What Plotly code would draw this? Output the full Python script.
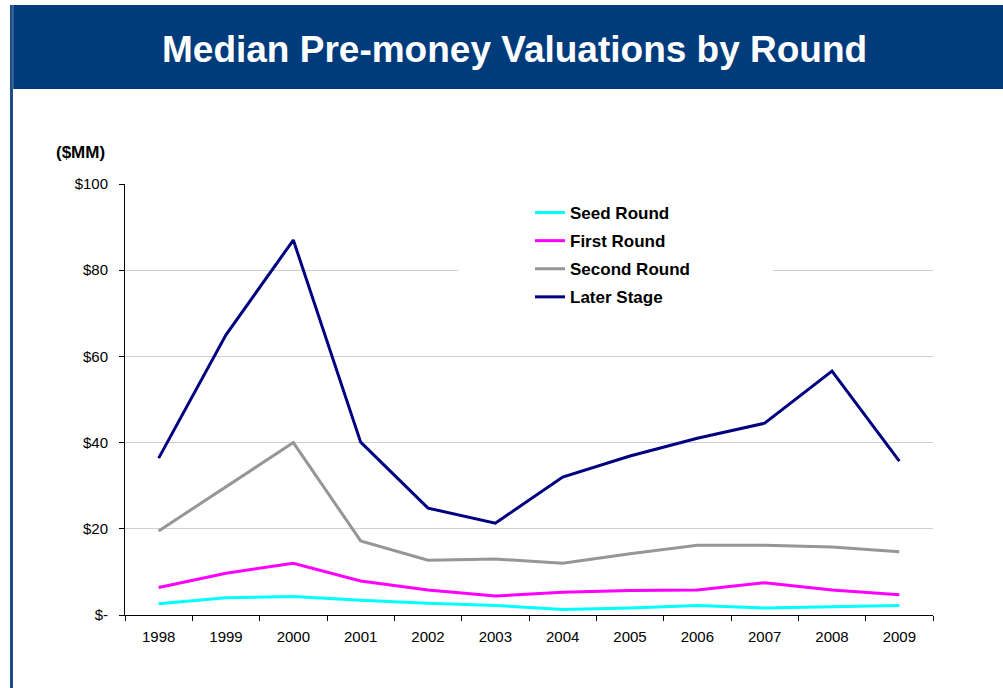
import plotly.graph_objects as go

years = ["1998", "1999", "2000", "2001", "2002", "2003",
         "2004", "2005", "2006", "2007", "2008", "2009"]

seed_round = [2.6, 4.0, 4.3, 3.4, 2.7, 2.2, 1.3, 1.6, 2.2, 1.6, 1.9, 2.2]
first_round = [6.4, 9.7, 12.0, 7.9, 5.8, 4.4, 5.3, 5.7, 5.8, 7.5, 5.8, 4.7]
second_round = [19.5, 29.8, 40.0, 17.2, 12.7, 13.0, 12.0, 14.2, 16.2, 16.2, 15.8, 14.7]
later_stage = [36.4, 65.0, 87.0, 40.1, 24.8, 21.3, 32.0, 36.9, 41.0, 44.5, 56.6, 35.7]

y_ticks = [0, 20, 40, 60, 80, 100]
y_labels = ["$-", "$20", "$40", "$60", "$80", "$100"]

W, H = 1003, 688
L, R, T, B = 125, 70, 184, 73
PW, PH = W - L - R, H - T - B


# helpers: page pixels -> paper coords
def px(x):
    return (x - L) / PW


def py(y):
    return (H - B - y) / PH


font = "Arial, Liberation Sans, sans-serif"

fig = go.Figure()
series = [
    ("Seed Round", seed_round, "#00FFFF"),
    ("First Round", first_round, "#FF00FF"),
    ("Second Round", second_round, "#969696"),
    ("Later Stage", later_stage, "#000080"),
]
for name, vals, col in series:
    fig.add_trace(go.Scatter(x=years, y=vals, mode="lines", name=name,
                             legendgroup=name,
                             line=dict(color=col, width=3)))

fig.update_layout(
    width=W, height=H,
    margin=dict(l=L, r=R, t=T, b=B),
    paper_bgcolor="white",
    plot_bgcolor="white",
    font=dict(family=font, size=15, color="black"),
    showlegend=True,
    legend=dict(x=px(530), y=py(195), xanchor="left", yanchor="top",
                bgcolor="rgba(0,0,0,0)", borderwidth=0,
                font=dict(family=font, size=17, color="black", weight="bold"),
                traceorder="grouped", tracegroupgap=3),
    xaxis=dict(type="category", range=[-0.5, 11.5],
               showline=True, linecolor="black", linewidth=1,
               ticks="outside", tickson="boundaries", ticklen=5, tickcolor="black",
               ticklabelstandoff=8,
               showgrid=False, tickfont=dict(size=15)),
    yaxis=dict(range=[0, 100], tickvals=y_ticks, ticktext=y_labels,
               showline=True, linecolor="black", linewidth=1,
               ticks="outside", ticklen=5, tickcolor="black",
               ticklabelstandoff=8,
               showgrid=True, gridcolor="#CFCFCF", gridwidth=1,
               zeroline=False, tickfont=dict(size=15)),
)

# title bar, left border line, white box behind the legend
fig.add_shape(type="rect", xref="paper", yref="paper",
              x0=px(10), x1=px(1003), y0=py(89), y1=py(5),
              fillcolor="#003C7C", line_width=0, layer="above")
fig.add_shape(type="line", xref="paper", yref="paper",
              x0=px(11.5), x1=px(11.5), y0=py(688), y1=py(5),
              line=dict(color="#1F4E85", width=3), layer="above")
fig.add_shape(type="line", xref="paper", yref="paper",
              x0=px(13), x1=px(13), y0=py(89), y1=py(5),
              line=dict(color="#5C7EA8", width=1), layer="above")
fig.add_shape(type="rect", xref="paper", yref="paper",
              x0=px(458), x1=px(773), y0=py(312), y1=py(198),
              fillcolor="white", line_width=0, layer="above")

fig.add_annotation(text="<b>Median Pre-money Valuations by Round</b>",
                   xref="paper", yref="paper", x=px(514), y=py(49),
                   xanchor="center", yanchor="middle", showarrow=False,
                   font=dict(family=font, size=37, color="white"))
fig.add_annotation(text="<b>($MM)</b>", xref="paper", yref="paper",
                   x=px(54), y=py(152), xanchor="left", yanchor="middle",
                   showarrow=False, font=dict(family=font, size=17, color="black"))

# drop the default page margin so the figure sits at the window origin
fig.write_html("out.html", config={"displayModeBar": False},
               post_script="document.body.style.margin='0';")
